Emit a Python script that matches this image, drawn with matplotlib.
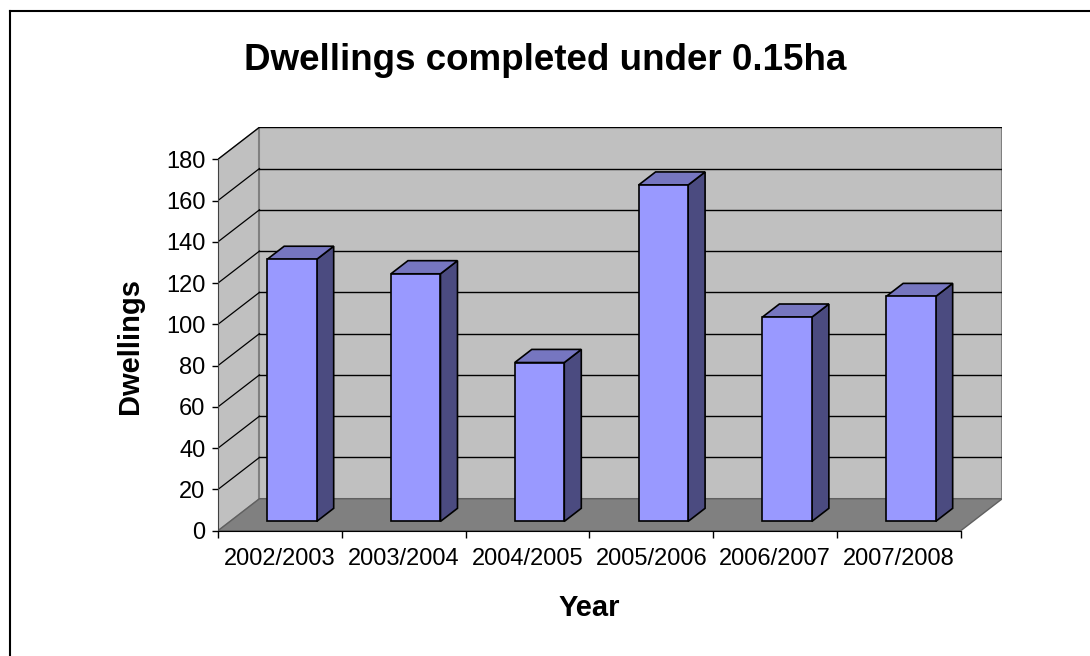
import matplotlib
import matplotlib.pyplot as plt
from matplotlib.patches import Polygon
from matplotlib.lines import Line2D

matplotlib.use('agg', force=True)

years = ["2002/2003", "2003/2004", "2004/2005", "2005/2006", "2006/2007", "2007/2008"]
dwellings = [127, 120, 77, 163, 99, 109]
y_ticks = [0, 20, 40, 60, 80, 100, 120, 140, 160, 180]

# fake 3D: depth offset of the back wall in data units
DX = 0.335
DY = 15.5
YMAX = 180
BAR_FRONT, BAR_BACK = 0.29, 0.70
BAR_GAP = 0.3

plt.rcParams['font.family'] = ['Liberation Sans', 'DejaVu Sans']

fig = plt.figure(figsize=(10.9, 6.56), dpi=100)
ax = fig.add_axes([0.2, 0.191, 0.7195, 0.615])
n = len(years)

# walls and floor
ax.add_patch(Polygon([(0, 0), (DX, DY), (DX, YMAX + DY), (0, YMAX)],
                     closed=True, facecolor="#c0c0c0", edgecolor="#808080", lw=1, zorder=1))
ax.add_patch(Polygon([(DX, DY), (n + DX, DY), (n + DX, YMAX + DY), (DX, YMAX + DY)],
                     closed=True, facecolor="#c0c0c0", edgecolor="#808080", lw=1.5, zorder=1))
ax.add_patch(Polygon([(0, 0), (n, 0), (n + DX, DY), (DX, DY)],
                     closed=True, facecolor="#808080", edgecolor="#606060", lw=1, zorder=2))

# gridlines on the walls
for v in y_ticks[1:]:
    ax.plot([DX, n + DX], [v + DY, v + DY], color="black", lw=1, zorder=2)
    ax.plot([0, DX], [v, v + DY], color="black", lw=0.9, zorder=2)

# bars
ddx = (BAR_BACK - BAR_FRONT) * DX
ddy = (BAR_BACK - BAR_FRONT) * DY
for i, v in enumerate(dwellings):
    xl = i + BAR_GAP + BAR_FRONT * DX
    xr = i + 1 - BAR_GAP + BAR_FRONT * DX
    y0 = BAR_FRONT * DY
    y1 = v + y0
    ax.add_patch(Polygon([(xr, y0), (xr + ddx, y0 + ddy), (xr + ddx, y1 + ddy), (xr, y1)],
                         closed=True, facecolor="#4b4b80", edgecolor="black", lw=1.2, zorder=3))
    ax.add_patch(Polygon([(xl, y1), (xr, y1), (xr + ddx, y1 + ddy), (xl + ddx, y1 + ddy)],
                         closed=True, facecolor="#7676c0", edgecolor="black", lw=1.2, zorder=3))
    ax.add_patch(Polygon([(xl, y0), (xr, y0), (xr, y1), (xl, y1)],
                         closed=True, facecolor="#9999ff", edgecolor="black", lw=1.2, zorder=4))

ax.set_xlim(0, n + DX)
ax.set_ylim(0, YMAX + DY)
ax.set_facecolor("none")
for s in ["top", "right"]:
    ax.spines[s].set_visible(False)
ax.spines["left"].set_bounds(0, YMAX)
ax.spines["bottom"].set_bounds(0, n)
ax.spines["left"].set_color("#404040")
ax.spines["left"].set_zorder(5)
ax.spines["bottom"].set_zorder(5)

ax.set_yticks(y_ticks)
ax.tick_params(axis="y", length=4, width=1, pad=5, labelsize=17)
ax.set_xticks(range(n + 1))
ax.set_xticklabels([])
ax.set_xticks([i + 0.5 for i in range(n)], minor=True)
ax.set_xticklabels(years, minor=True)
ax.tick_params(axis="x", which="major", length=5, width=1)
ax.tick_params(axis="x", which="minor", length=0, pad=12.5, labelsize=17)

fig.text(545 / 1090, 1 - 60 / 656, "Dwellings completed under 0.15ha",
         ha="center", va="center", fontsize=26.5, fontweight="bold")
fig.text(130 / 1090, 1 - 346 / 656, "Dwellings", rotation=90,
         ha="center", va="center", fontsize=21, fontweight="bold")
fig.text(589 / 1090, 1 - 608 / 656, "Year",
         ha="center", va="center", fontsize=21, fontweight="bold")

# chart area border (right and bottom edges fall outside the image)
fig.add_artist(Line2D([10 / 1090, 10 / 1090], [0, 1 - 11 / 656], color="black", lw=1.5))
fig.add_artist(Line2D([10 / 1090, 1], [1 - 11 / 656, 1 - 11 / 656], color="black", lw=1.5))

fig.savefig("out.png", dpi=100)
